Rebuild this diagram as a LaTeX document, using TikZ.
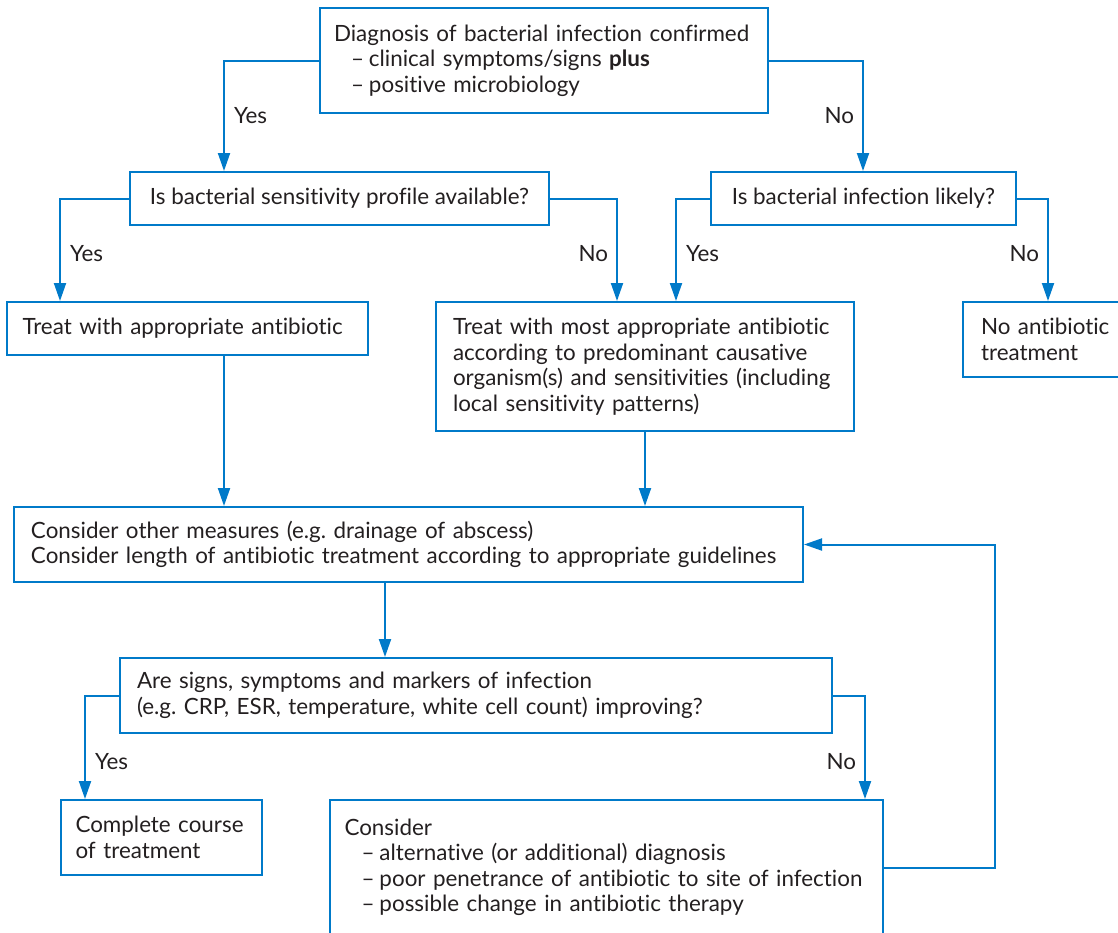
\documentclass[tikz,border=0pt]{standalone}
\usepackage{fontspec}
\setmainfont{Lato}[Ligatures=NoCommon]
\usepackage{tikz}
\usetikzlibrary{positioning, arrows.meta, calc}
\definecolor{FlowBlue}{RGB}{0,122,201}
\definecolor{InkGrey}{RGB}{35,31,32}
\newcommand{\dashitem}[1]{\hspace*{8.5pt}\makebox[9pt][l]{–}#1}
\frenchspacing

\begin{document}
\begin{tikzpicture}[x=0.5pt, y=-0.5pt,
  box/.style={draw=FlowBlue, line width=1pt, align=left, inner xsep=8.5pt, inner ysep=0pt,
    text=InkGrey, font=\fontsize{11.2}{12.75}\selectfont},
  lbl/.style={inner sep=0pt, text=InkGrey, font=\fontsize{11.2}{12.75}\selectfont},
  arr/.style={draw=FlowBlue, line width=1pt, -{Triangle[length=9pt,width=6pt]}}]
  \useasboundingbox (0,0) rectangle (1118,932);
  \clip (0,0) rectangle (1118,932);
  % boxes
  \node[box, text width=210pt, inner xsep=7pt, minimum height=52.5pt] (diag) at (544,60.5)
    {Diagnosis of bacterial infection confirmed\\ \dashitem{clinical symptoms/signs \textbf{plus}}\\
     \dashitem{positive microbiology}};
  \node[box, align=center, minimum width=209.5pt, minimum height=26.5pt] (sens) at (339.5,198.5)
    {Is bacterial sensitivity profile available?};
  \node[box, align=center, minimum width=152.5pt, minimum height=26.5pt] (likely) at (863.5,198.5)
    {Is bacterial infection likely?};
  \node[box, text width=165pt, inner xsep=7.75pt, minimum height=26.5pt] (treat) at (187.5,328.5)
    {Treat with appropriate antibiotic};
  \node[box, text width=192pt, minimum height=64.5pt] (most) at (645,366.5)
    {Treat with most appropriate antibiotic\\ according to predominant causative\\
     organism(s) and sensitivities (including\\ local sensitivity patterns)};
  \node[box, text width=82pt, inner xsep=9pt, minimum height=37.5pt] (noab) at (1063,339.5)
    {No antibiotic\\ treatment};
  \node[box, text width=377.5pt, minimum height=37.5pt] (measures) at (408.5,544.5)
    {Consider other measures (e.g. drainage of abscess)\\
     Consider length of antibiotic treatment according to appropriate guidelines};
  \node[box, text width=339pt, minimum height=37.5pt] (improve) at (476,695.5)
    {Are signs, symptoms and markers of infection\\
     (e.g. CRP, ESR, temperature, white cell count) improving?};
  \node[box, text width=86pt, inner xsep=7.25pt, minimum height=37.5pt] (complete) at (161.5,837.5)
    {Complete course\\ of treatment};
  \node[box, text width=262pt, inner xsep=7.25pt, minimum height=67.5pt] (consider) at (606.5,867.5)
    {Consider\\ \dashitem{alternative (or additional) diagnosis}\\
     \dashitem{poor penetrance of antibiotic to site of infection}\\
     \dashitem{possible change in antibiotic therapy}};
  % connectors
  \draw[arr] (diag.west) -| node[lbl, pos=0.75, right=4.5pt] {Yes} ($(sens.north west)+(95,0)$);
  \draw[arr] (diag.east) -| node[lbl, pos=0.75, left=4pt] {No} ($(likely.north west)+(153,0)$);
  \draw[arr] (sens.west) -| node[lbl, pos=0.77, right=4.5pt] {Yes} ($(treat.north west)+(54,0)$);
  \draw[arr] (sens.east) -| node[lbl, pos=0.77, left=4pt] {No} ($(most.north west)+(182,0)$);
  \draw[arr] (likely.west) -| node[lbl, pos=0.77, right=4.5pt] {Yes} ($(most.north west)+(241,0)$);
  \draw[arr] (likely.east) -| node[lbl, pos=0.77, left=4pt] {No} ($(noab.north west)+(86,0)$);
  \coordinate (tdown) at ($(treat.south west)+(218,0)$);
  \draw[arr] (tdown) -- (tdown |- measures.north);
  \draw[arr] (most.south) -- (most.south |- measures.north);
  \coordinate (mdown) at ($(measures.south west)+(372,0)$);
  \draw[arr] (mdown) -- (mdown |- improve.north);
  \draw[arr] (improve.west) -| node[lbl, pos=0.82, right=4.5pt] {Yes} ($(complete.north west)+(25,0)$);
  \draw[arr] (improve.east) -| node[lbl, pos=0.82, left=4pt] {No} ($(consider.north west)+(536,0)$);
  \draw[arr] (consider.east) -- ++(111,0) |- (measures.east);
\end{tikzpicture}
\end{document}
